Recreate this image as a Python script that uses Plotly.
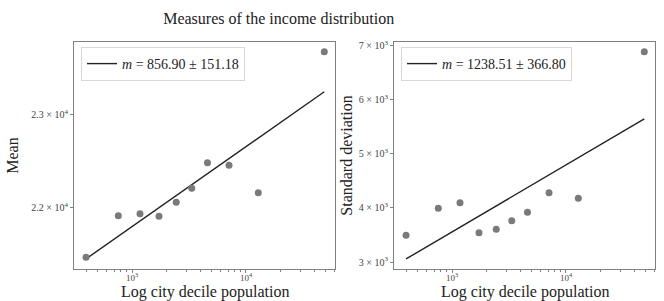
import numpy as np
import plotly.graph_objects as go

# ---- data ----
population = [395, 758, 1175, 1725, 2443, 3342, 4592, 7096, 12823, 48640]
mean_income = [21466, 21912, 21934, 21906, 22056, 22206, 22480, 22452, 22159, 23670]
std_income = [3494, 3993, 4096, 3542, 3604, 3763, 3919, 4281, 4177, 6887]
mean_slope, mean_err = 856.90, 151.18
std_slope, std_err = 1238.51, 366.80
x_tickvals = [1e3, 1e4]
x_ticktext = ["10<sup>3</sup>", "10<sup>4</sup>"]
mean_tickvals = [22000, 23000]
mean_ticktext = ["2.2 × 10<sup>4</sup>", "2.3 × 10<sup>4</sup>"]
std_tickvals = [3000, 4000, 5000, 6000, 7000]
std_ticktext = ["3 × 10<sup>3</sup>", "4 × 10<sup>3</sup>", "5 × 10<sup>3</sup>",
                "6 × 10<sup>3</sup>", "7 × 10<sup>3</sup>"]
x_title = "Log city decile population"

FONT = "Liberation Serif"
lx = np.log10(np.array(population, dtype=float))
minor_vals = [m * 10 ** e for e in (2, 3, 4) for m in range(2, 10)]


def fit_line(y, slope):
    y = np.array(y, dtype=float)
    b = y.mean() - slope * lx.mean()
    return b + slope * lx


fig = go.Figure()
W, H = 664, 301
ml, mr, mt, mb = 74, 9, 42, 32
pw = W - ml - mr
ph = H - mt - mb

fig.add_trace(go.Scatter(x=population, y=fit_line(mean_income, mean_slope), mode="lines",
                         line=dict(color="#222222", width=1.4),
                         name=f"<i>m</i> = {mean_slope:.2f} ± {mean_err:.2f}",
                         xaxis="x", yaxis="y", legend="legend"))
fig.add_trace(go.Scatter(x=population, y=mean_income, mode="markers",
                         marker=dict(color="#7a7a7a", size=7), showlegend=False,
                         xaxis="x", yaxis="y"))
fig.add_trace(go.Scatter(x=population, y=fit_line(std_income, std_slope), mode="lines",
                         line=dict(color="#222222", width=1.4),
                         name=f"<i>m</i> = {std_slope:.2f} ± {std_err:.2f}",
                         xaxis="x2", yaxis="y2", legend="legend2"))
fig.add_trace(go.Scatter(x=population, y=std_income, mode="markers",
                         marker=dict(color="#7a7a7a", size=7), showlegend=False,
                         xaxis="x2", yaxis="y2"))

d1 = [0, 261 / pw]
d2 = [(394 - ml) / pw, 1]

xcommon = dict(type="log", range=[2.491, 4.781], tickvals=x_tickvals, ticktext=x_ticktext,
               showline=True, linecolor="#808080", linewidth=1, mirror=True,
               ticks="outside", ticklen=3, tickcolor="#808080", ticklabelstandoff=-3,
               tickfont=dict(family=FONT, size=9, color="#444444"),
               minor=dict(tickmode="array", tickvals=minor_vals, ticks="outside", ticklen=2,
                          tickcolor="#808080", showgrid=False),
               showgrid=False, zeroline=False, automargin=False)
ycommon = dict(showline=True, linecolor="#808080", linewidth=1, mirror=True,
               ticks="outside", ticklen=3, tickcolor="#808080",
               tickfont=dict(family=FONT, size=10, color="#444444"),
               showgrid=False, zeroline=False, automargin=False)

fig.update_layout(
    width=W, height=H,
    margin=dict(l=ml, r=mr, t=mt, b=mb, autoexpand=False),
    paper_bgcolor="white", plot_bgcolor="white",
    font=dict(family=FONT, color="#222222"),
    title=dict(text="Measures of the income distribution", x=278.7 / W, xanchor="center",
               y=1 - 18 / H, yanchor="middle", font=dict(family=FONT, size=16, color="#222222")),
    xaxis=dict(domain=d1, anchor="y", **xcommon),
    xaxis2=dict(domain=d2, anchor="y2", **xcommon),
    yaxis=dict(domain=[0, 1], anchor="x", range=[21341, 23774], tickvals=mean_tickvals,
               ticktext=mean_ticktext,
               title=dict(text="Mean", font=dict(family=FONT, size=16, color="#222222"), standoff=8),
               **ycommon),
    yaxis2=dict(domain=[0, 1], anchor="x2", range=[2871, 7067], tickvals=std_tickvals,
                ticktext=std_ticktext,
                title=dict(text="Standard deviation", font=dict(family=FONT, size=16, color="#222222"),
                           standoff=2),
                **ycommon),
    legend=dict(x=d1[0] + 7 / pw, y=1 - 5 / ph, xanchor="left", yanchor="top",
                bordercolor="#d8d8d8", borderwidth=1, bgcolor="white",
                font=dict(family=FONT, size=14, color="#222222"),
                itemwidth=30, tracegroupgap=0),
    legend2=dict(x=d2[0] + 7 / pw, y=1 - 5 / ph, xanchor="left", yanchor="top",
                 bordercolor="#d8d8d8", borderwidth=1, bgcolor="white",
                 font=dict(family=FONT, size=14, color="#222222"),
                 itemwidth=30, tracegroupgap=0),
    showlegend=True,
)

for dom in (d1, d2):
    fig.add_annotation(text=x_title, xref="paper", yref="paper",
                       x=(dom[0] + dom[1]) / 2, y=-(292 - (H - mb)) / ph,
                       xanchor="center", yanchor="middle", showarrow=False, borderpad=0,
                       font=dict(family=FONT, size=16, color="#222222"))

fig.write_html("out.html", config={"displayModeBar": False},
               post_script="document.body.style.margin='0';document.body.style.overflow='hidden';")
